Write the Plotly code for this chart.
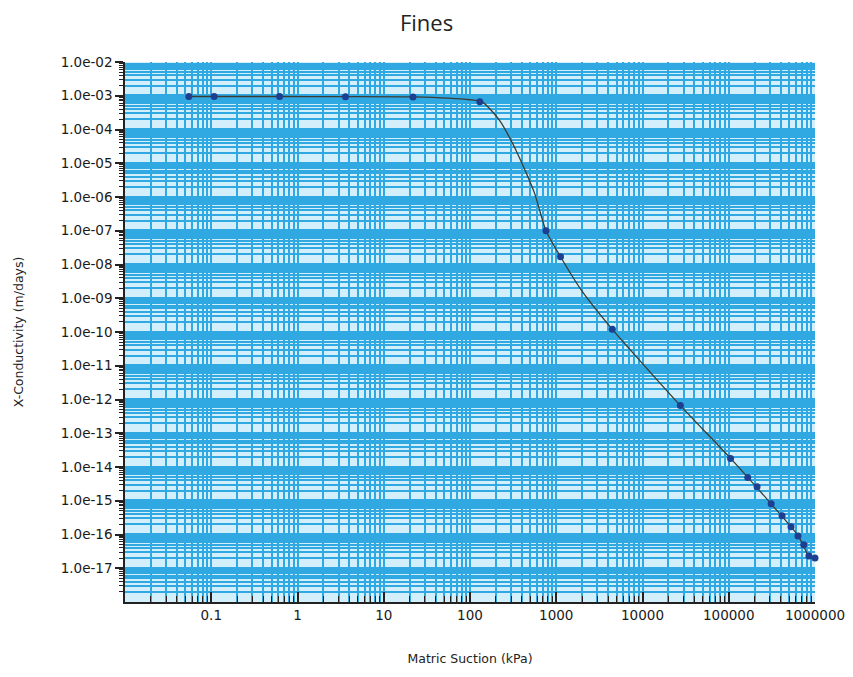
import plotly.graph_objects as go

# Measured points (markers)
suction_pts = [0.055, 0.108, 0.62, 3.6, 21.8, 130, 760, 1120, 4470, 27500,
               105000, 166000, 213000, 310000, 415000, 527000, 635000, 740000, 850000, 1000000]
cond_pts = [9.5e-4, 9.5e-4, 9.5e-4, 9.4e-4, 9.2e-4, 6.6e-4, 1.0e-7, 1.7e-8, 1.2e-10, 6.6e-13,
            1.8e-14, 4.9e-15, 2.6e-15, 8.1e-16, 3.6e-16, 1.7e-16, 9.1e-17, 5.0e-17, 2.3e-17, 2.0e-17]

# Fitted curve
curve_x = [0.055, 0.108, 0.62, 3.6, 21.8, 100, 140, 219, 310, 400, 560, 760, 1120, 2000,
           4470, 27500, 105000, 310000, 640000, 850000, 1000000]
curve_y = [9.5e-4, 9.5e-4, 9.5e-4, 9.4e-4, 9.2e-4, 7.6e-4, 6.5e-4, 1.9e-4, 4.0e-5, 1.0e-5,
           1.3e-6, 1.0e-7, 1.7e-8, 1.6e-9, 1.2e-10, 6.6e-13, 1.8e-14, 8.1e-16, 9.1e-17, 2.3e-17, 2.0e-17]

x_tickvals = [0.1, 1, 10, 100, 1000, 10000, 100000, 1000000]
x_ticktext = ["0.1", "1", "10", "100", "1000", "10000", "100000", "1000000"]
y_exponents = list(range(2, 18))
y_tickvals = [10.0 ** -k for k in y_exponents]
y_ticktext = ["1.0e-%02d" % k for k in y_exponents]

x_minor = [m * 10.0 ** k for k in range(-2, 6) for m in range(2, 10)]
y_minor = [m * 10.0 ** k for k in range(-18, -2) for m in range(2, 10)]

grid_blue = "#30a8e2"

fig = go.Figure()
fig.add_trace(go.Scatter(x=curve_x, y=curve_y, mode="lines",
                         line=dict(color="#3c3c30", width=1.3, shape="spline", smoothing=0.6),
                         hoverinfo="skip", showlegend=False, cliponaxis=False))
fig.add_trace(go.Scatter(x=suction_pts, y=cond_pts, mode="markers",
                         marker=dict(color="#1d3f8f", size=7), showlegend=False,
                         cliponaxis=False))

fig.update_layout(
    width=853, height=677,
    margin=dict(l=125, r=38, t=62, b=75),
    paper_bgcolor="white",
    plot_bgcolor="#d2effb",
    title=dict(text="Fines", x=0.5, xanchor="center", y=0.965, yanchor="middle",
               font=dict(family="Open Sans", size=22, color="#222")),
    font=dict(family="DejaVu Sans", color="#222"),
)
fig.update_xaxes(
    type="log", range=[-2, 6], automargin=False,
    tickmode="array", tickvals=x_tickvals, ticktext=x_ticktext,
    tickfont=dict(size=13.5, color="#1a1a1a"),
    showgrid=True, gridcolor=grid_blue, gridwidth=2,
    showline=True, linecolor="#222", linewidth=1.5,
    ticks="inside", ticklen=10, tickcolor="#222", tickwidth=1.5,
    minor=dict(tickmode="array", tickvals=x_minor, showgrid=True, gridcolor=grid_blue,
               gridwidth=1.5, ticks="inside", ticklen=6, tickcolor="#222", tickwidth=1.2),
    zeroline=False,
    title=dict(text="Matric Suction (kPa)", font=dict(size=12.5, color="#222"), standoff=32),
)
fig.update_yaxes(
    type="log", range=[-18, -2], automargin=False,
    tickmode="array", tickvals=y_tickvals, ticktext=y_ticktext,
    tickfont=dict(size=13.5, color="#1a1a1a"),
    showgrid=True, gridcolor=grid_blue, gridwidth=2.5,
    showline=True, linecolor="#222", linewidth=1.5,
    ticks="outside", ticklen=8, tickcolor="#222", tickwidth=1.5,
    minor=dict(tickmode="array", tickvals=y_minor, showgrid=True, gridcolor=grid_blue,
               gridwidth=1.6, ticks="outside", ticklen=4, tickcolor="#222", tickwidth=1.2),
    zeroline=False,
    title=dict(text="X-Conductivity (m/days)", font=dict(size=12.5, color="#222"), standoff=34),
)

fig.write_html("out.html")
